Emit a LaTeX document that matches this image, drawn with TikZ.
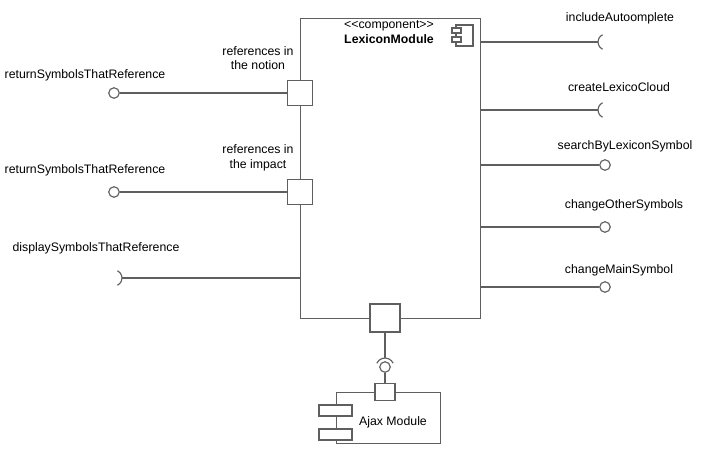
\documentclass[tikz,border=0pt]{standalone}
\usepackage{fontspec}
\setmainfont{Liberation Sans}
\usepackage{tikz}
\usetikzlibrary{positioning}
\definecolor{cinza}{RGB}{95,95,95}

\begin{document}
\begin{tikzpicture}[x=1pt,y=-1pt,
  linha/.style={draw=cinza,line width=1.15pt},
  porta/.style={linha,fill=white,minimum width=25pt,minimum height=25pt,inner sep=0pt},
  bola/.style={linha,circle,fill=white,minimum size=10.5pt,inner sep=0pt},
  rotulo/.style={font=\fontsize{12.3}{14.5}\selectfont,align=center,inner sep=0pt}]
\useasboundingbox (0,0) rectangle (711,456);
% Componente principal
\node[linha,anchor=north west,minimum width=180pt,minimum height=300pt,inner sep=0pt] (lexicon) at (300,18) {};
\node[rotulo] (titulo) at (389,32) {{<}{<}component{>}{>}\\\textbf{LexiconModule}};
\draw[linha,fill=white] (456,25) rectangle (473,46); % icone
\draw[linha,fill=white] (452,28) rectangle (461,33);
\draw[linha,fill=white] (452,37) rectangle (461,42);
% Portas
\node[porta] (pnotion) at (300,93) {};
\node[porta] (pimpact) at (300,192) {};
\node[porta,minimum width=30pt,minimum height=28pt] (pajax) at (385,318) {};
\node[rotulo] (lnotion) at (258,58) {references in\\the notion};
\node[rotulo] (limpact) at (258,158) {references in\\the impact};
% Interfaces da esquerda
\node[bola] (retnotion) at (114,93) {};
\node[bola] (retimpact) at (114,192) {};
\coordinate (display) at (122,278);
\draw[linha] (retnotion) -- (pnotion);
\draw[linha] (retimpact) -- (pimpact);
\draw[linha] (display) -- (lexicon.west|-display);
\draw[linha] (display) ++(-8,0) ++(-65:8) arc[start angle=-65,end angle=65,radius=8];
\node[rotulo] (tretnotion) at (85,75) {returnSymbolsThatReference};
\node[rotulo] (tretimpact) at (85,170) {returnSymbolsThatReference};
\node[rotulo] (tdisplay) at (96,248) {displaySymbolsThatReference};
% Interfaces da direita
\coordinate (include) at (598,42);
\coordinate (cloud) at (598,110);
\node[bola] (search) at (605,165) {};
\node[bola] (other) at (605,227) {};
\node[bola] (mainsym) at (605,287) {};
\foreach \s in {include,cloud}{
  \draw[linha] (lexicon.east|-\s) -- (\s);
  \draw[linha] (\s) ++(8,0) ++(115:8) arc[start angle=115,end angle=245,radius=8];
}
\foreach \b in {search,other,mainsym}
  \draw[linha] (lexicon.east|-\b) -- (\b);
\node[rotulo] (tinclude) at (620,18) {includeAutoomplete};
\node[rotulo] (tcloud) at (619,87) {createLexicoCloud};
\node[rotulo] (tsearch) at (625,146) {searchByLexiconSymbol};
\node[rotulo] (tother) at (624,205) {changeOtherSymbols};
\node[rotulo] (tmainsym) at (619,270) {changeMainSymbol};
% Ajax Module
\node[linha,anchor=north west,minimum width=104pt,minimum height=51pt,inner sep=0pt] (ajax) at (336,392) {};
\node[porta,minimum width=20pt,minimum height=17pt] (pmod) at (385,392) {};
\draw[linha,fill=white] (319,405) rectangle (352,416);
\draw[linha,fill=white] (319,429) rectangle (352,440);
\node[rotulo] (tajax) at (393,422) {Ajax Module};
% Ligacao bola-soquete
\node[bola] (ajaxball) at (385,367) {};
\coordinate (soquete) at (385,358);
\draw[linha] (pajax) -- (soquete);
\draw[linha] (ajaxball) -- (pmod);
\draw[linha] (ajaxball.center) ++(205:9) arc[start angle=205,end angle=335,radius=9];
\end{tikzpicture}
\end{document}
